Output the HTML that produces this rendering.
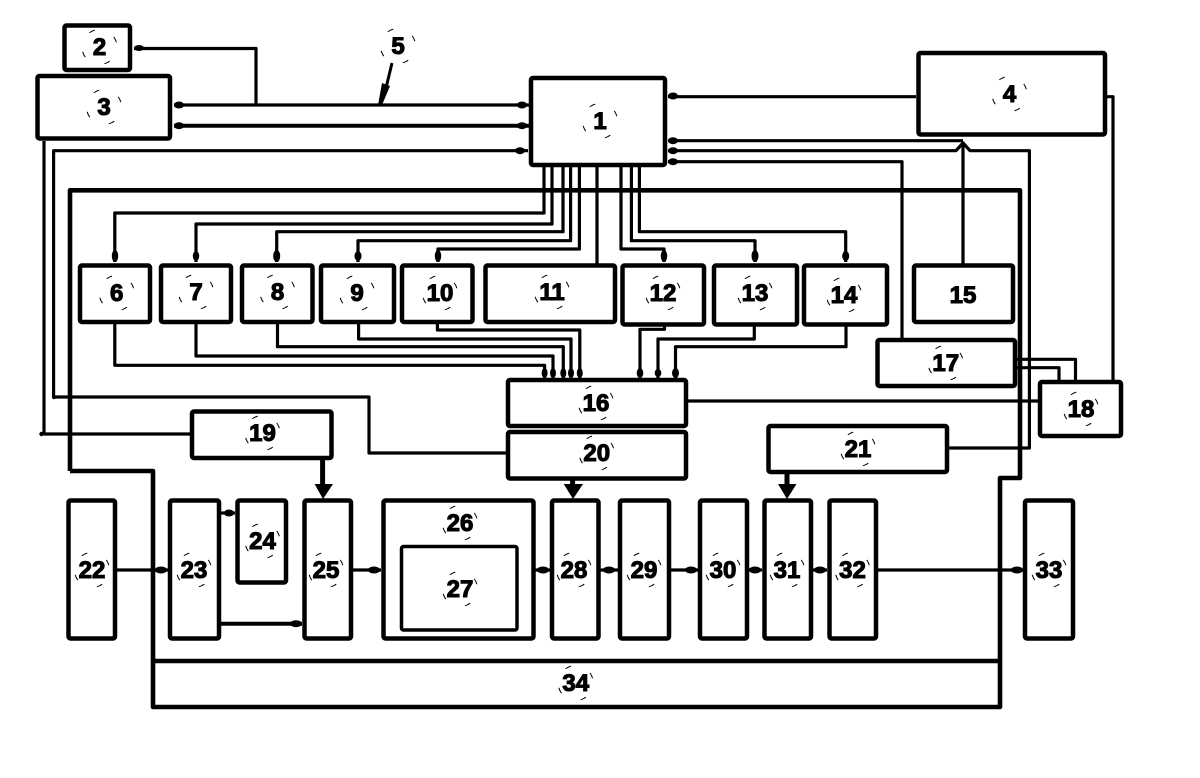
<!DOCTYPE html>
<html><head><meta charset="utf-8">
<style>
html,body{margin:0;padding:0;background:#fff}
svg{display:block}
text{font-family:"Liberation Sans",sans-serif;font-weight:bold;font-size:24px;text-anchor:middle;fill:#000;stroke:#000;stroke-width:1.1}
.b rect{fill:none;stroke:#000;stroke-width:4.5;}
.l path{fill:none;stroke:#000;stroke-width:3.2;stroke-linejoin:round}
.c circle{fill:none;stroke:#000;stroke-width:1;stroke-dasharray:6 21.5;stroke-dashoffset:11}
</style></head><body>
<svg width="1200" height="778" viewBox="0 0 1200 778" xmlns="http://www.w3.org/2000/svg">
<rect width="1200" height="778" fill="#fff"/>
<g class="l">
<path d="M134 48.5H256V105"/>
<path d="M174 105H529"/>
<path d="M174 125.7H529" style="stroke-width:4"/>
<path d="M528 150.7H53.6V397H369V453H507"/>
<path d="M44 141V434H190"/>
<path d="M916 96.7H668"/>
<path d="M668 140.7H963"/>
<path d="M668 150.7H956L963 143L970 150.7H1029.4V448H949"/>
<path d="M668 161.7H902V338"/>
<path d="M963 264V142"/>
<path d="M1107 96.7H1113V381"/>
<path d="M1016 359.3H1075.5V380"/>
<path d="M1016 367.7H1059V380"/>
<path d="M688 401H1038"/>
<path d="M544 167V213H114.8V262"/>
<path d="M552 167V224H196V262"/>
<path d="M563 167V231.7H276.7V262"/>
<path d="M570.6 167V240.7H358V262"/>
<path d="M579.4 167V249H438V262"/>
<path d="M597 167V264"/>
<path d="M621 167V249H664V262"/>
<path d="M631.4 167V240.7H755V262"/>
<path d="M639.4 167V231.7H845.7V262"/>
<path d="M114.8 324V365.3H544.6V378"/>
<path d="M196 324V356H553V378"/>
<path d="M277.5 324V346.7H563.3V378"/>
<path d="M358.6 324V339H571V378"/>
<path d="M437.4 324V330H579.8V378"/>
<path d="M664.5 326V329.3H640V378"/>
<path d="M754.3 326V339H658V378"/>
<path d="M846 326V346.7H675.5V378"/>
<path d="M117 570H168"/>
<path d="M221 513H235"/>
<path d="M221 623.7H302" style="stroke-width:4"/>
<path d="M353 570H381"/>
<path d="M535 570H550"/>
<path d="M600 570H618"/>
<path d="M671 570H698"/>
<path d="M749 570H762"/>
<path d="M813 570H827"/>
<path d="M878 570H1023"/>
<path d="M322.6 459V490" style="stroke-width:5"/>
<path d="M572.6 480V490" style="stroke-width:5"/>
<path d="M787 473V490" style="stroke-width:5"/>
<path d="M392 63L386 88" style="stroke-width:3"/>
<path d="M70 471V190.3H1020V478H1000V707H153V471H70" style="stroke-width:4.6"/>
<path d="M153 661H1000" style="stroke-width:4.6"/>
</g>
<g fill="#000">
<polygon points="314.6,484 333,484 323,499"/>
<polygon points="563.7,484 583,484 573,499"/>
<polygon points="778,484 796.5,484 787,499"/>
<polygon points="382,83 390,86 382,105 378,105"/>
<ellipse cx="139" cy="48" rx="5" ry="3"/>
<ellipse cx="179" cy="105" rx="5" ry="3.5"/>
<ellipse cx="522" cy="105" rx="5" ry="3.5"/>
<ellipse cx="179" cy="125.7" rx="5" ry="3.5"/>
<ellipse cx="522" cy="125.7" rx="5" ry="3.5"/>
<ellipse cx="520" cy="150.7" rx="5" ry="3.5"/>
<ellipse cx="673" cy="96" rx="5" ry="3.5"/>
<ellipse cx="673" cy="140.7" rx="5" ry="3.5"/>
<ellipse cx="673" cy="150.7" rx="5" ry="3.5"/>
<ellipse cx="673" cy="161.7" rx="5" ry="3.5"/>
<ellipse cx="115" cy="256" rx="3.2" ry="6"/>
<ellipse cx="196" cy="256" rx="3.2" ry="5"/>
<ellipse cx="276.7" cy="256" rx="3.5" ry="6"/>
<ellipse cx="358" cy="256" rx="3.5" ry="5"/>
<ellipse cx="438" cy="256" rx="3.2" ry="6"/>
<ellipse cx="664" cy="256" rx="3.2" ry="6"/>
<ellipse cx="755" cy="256" rx="3.5" ry="6"/>
<ellipse cx="845.7" cy="256" rx="3.5" ry="5"/>
<ellipse cx="544.6" cy="373" rx="3" ry="5"/>
<ellipse cx="553" cy="373" rx="3" ry="5"/>
<ellipse cx="563.3" cy="373" rx="3" ry="5"/>
<ellipse cx="571" cy="373" rx="3" ry="5"/>
<ellipse cx="579.8" cy="373" rx="3" ry="5"/>
<ellipse cx="640" cy="373" rx="3.3" ry="5"/>
<ellipse cx="658" cy="373" rx="3.3" ry="4"/>
<ellipse cx="675.5" cy="373" rx="3.5" ry="5"/>
<ellipse cx="161" cy="570" rx="6" ry="3.5"/>
<ellipse cx="229" cy="513" rx="5" ry="3.5"/>
<ellipse cx="296" cy="623.7" rx="6" ry="3.5"/>
<ellipse cx="374" cy="570" rx="6" ry="3.5"/>
<ellipse cx="543" cy="570" rx="6" ry="3.5"/>
<ellipse cx="609" cy="570" rx="6" ry="3.5"/>
<ellipse cx="691" cy="570" rx="6" ry="3.5"/>
<ellipse cx="755" cy="570" rx="6" ry="3.5"/>
<ellipse cx="820" cy="570" rx="6" ry="3.5"/>
<ellipse cx="1017" cy="570" rx="6" ry="3.5"/>
<circle cx="41.5" cy="434" r="2.2"/>
<circle cx="54" cy="397" r="2.2"/>
</g>
<g class="b">
<rect x="64.5" y="25.5" width="65.5" height="44.5" rx="2"/>
<rect x="37.5" y="76" width="132.5" height="62.5" rx="2"/>
<rect x="531" y="78" width="134" height="87" rx="2"/>
<rect x="918.5" y="53" width="186.5" height="81.5" rx="2"/>
<rect x="80" y="265.5" width="70" height="56.5" rx="2"/>
<rect x="161" y="265.5" width="70" height="56.5" rx="2"/>
<rect x="242" y="265.5" width="70.5" height="56.5" rx="2"/>
<rect x="321" y="265.5" width="73" height="56.5" rx="2"/>
<rect x="402" y="265.5" width="70.5" height="56.5" rx="2"/>
<rect x="485.5" y="265.5" width="129.5" height="56.5" rx="2"/>
<rect x="622.5" y="265.5" width="81.5" height="59" rx="2"/>
<rect x="714" y="265.5" width="83" height="59" rx="2"/>
<rect x="804" y="265.5" width="83" height="59" rx="2"/>
<rect x="914" y="265.5" width="99" height="56.5" rx="2"/>
<rect x="877.5" y="340" width="137.5" height="46" rx="2"/>
<rect x="1040" y="382" width="81" height="54" rx="2"/>
<rect x="508" y="380" width="178" height="46" rx="2"/>
<rect x="508" y="432" width="178" height="46.5" rx="2"/>
<rect x="768.5" y="426" width="178.5" height="46" rx="2"/>
<rect x="192" y="411.5" width="139.5" height="46.5" rx="2"/>
<rect x="68.5" y="500.5" width="46.5" height="138" rx="2"/>
<rect x="170" y="500.5" width="49" height="138" rx="2"/>
<rect x="237.5" y="500.5" width="48.5" height="82" rx="2"/>
<rect x="304.5" y="500.5" width="46.5" height="138" rx="2"/>
<rect x="383.5" y="500.5" width="150" height="138" rx="2"/>
<rect x="401.5" y="546.5" width="115.5" height="83.5" rx="2" style="stroke-width:3.5"/>
<rect x="552" y="500.5" width="46.5" height="138" rx="2"/>
<rect x="620" y="500.5" width="49" height="138" rx="2"/>
<rect x="700" y="500.5" width="47" height="138" rx="2"/>
<rect x="764.5" y="500.5" width="46.5" height="138" rx="2"/>
<rect x="829.5" y="500.5" width="46.5" height="138" rx="2"/>
<rect x="1025" y="500.5" width="48" height="138" rx="2"/>
</g>
<g class="c">
<circle cx="600" cy="121" r="17.5"/><circle cx="99.5" cy="47" r="17.5"/><circle cx="104" cy="107" r="17.5"/><circle cx="1009.5" cy="94" r="17.5"/><circle cx="398" cy="46" r="17.5"/>
<circle cx="116.7" cy="293" r="17.5"/><circle cx="196" cy="292" r="17.5"/><circle cx="277.5" cy="292" r="17.5"/><circle cx="357" cy="293" r="17.5"/><circle cx="440" cy="293" r="17.5"/><circle cx="552" cy="292" r="17.5"/><circle cx="663" cy="293" r="17.5"/><circle cx="755" cy="293" r="17.5"/><circle cx="844" cy="295" r="17.5"/>
<circle cx="596" cy="403" r="17.5"/><circle cx="945.7" cy="363" r="17.5"/><circle cx="1081" cy="409" r="17.5"/><circle cx="262.5" cy="433" r="17.5"/><circle cx="596.7" cy="453" r="17.5"/><circle cx="858" cy="449" r="17.5"/>
<circle cx="92" cy="570" r="17.5"/><circle cx="194" cy="570" r="17.5"/><circle cx="262.5" cy="541" r="17.5"/><circle cx="326" cy="570" r="17.5"/><circle cx="460" cy="523" r="17.5"/><circle cx="460" cy="589" r="17.5"/><circle cx="574" cy="570" r="17.5"/><circle cx="644" cy="570" r="17.5"/><circle cx="723" cy="570" r="17.5"/><circle cx="787" cy="570" r="17.5"/><circle cx="852.5" cy="570" r="17.5"/><circle cx="1049" cy="570" r="17.5"/><circle cx="575.7" cy="683" r="17.5"/>
</g>
<g>
<text x="600" y="129">1</text><text x="99.5" y="55">2</text><text x="104" y="115">3</text><text x="1009.5" y="102">4</text><text x="398" y="54">5</text>
<text x="116.7" y="301">6</text><text x="196" y="300">7</text><text x="277.5" y="300">8</text><text x="357" y="301">9</text><text x="440" y="301">10</text><text x="552" y="300">11</text><text x="663" y="301">12</text><text x="755" y="301">13</text><text x="844" y="303">14</text><text x="963" y="303">15</text>
<text x="596" y="411">16</text><text x="945.7" y="371">17</text><text x="1081" y="417">18</text><text x="262.5" y="441">19</text><text x="596.7" y="461">20</text><text x="858" y="457">21</text>
<text x="92" y="578">22</text><text x="194" y="578">23</text><text x="262.5" y="549">24</text><text x="326" y="578">25</text><text x="460" y="531">26</text><text x="460" y="597">27</text><text x="574" y="578">28</text><text x="644" y="578">29</text><text x="723" y="578">30</text><text x="787" y="578">31</text><text x="852.5" y="578">32</text><text x="1049" y="578">33</text><text x="575.7" y="691">34</text>
</g>
</svg>
</body></html>
